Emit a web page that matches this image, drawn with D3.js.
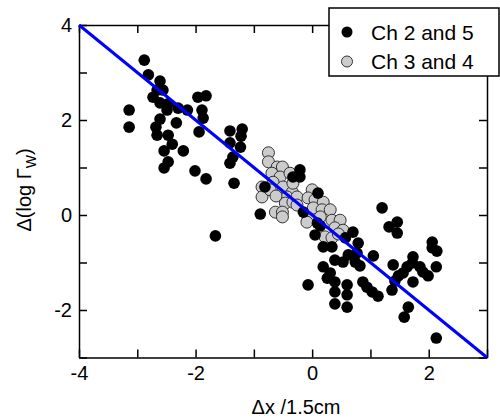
<!DOCTYPE html>
<html>
<head>
<meta charset="utf-8">
<script src="https://cdn.jsdelivr.net/npm/d3@7"></script>
<style>
  body { margin: 0; background: #fff; }
  svg { font-family: "Liberation Sans", Arial, sans-serif; }
  .axis path, .axis line { stroke: #000; stroke-width: 1.5; }
  .axis text { font-size: 20px; fill: #000; }
</style>
</head>
<body>
<svg id="chart"></svg>
<script>
// Ch 2 and 5 (black)
const blackX = [-2.88, -2.81, -2.61, -2.56, -2.66, -2.73, -2.61, -2.47, -2.49, -2.30, -2.14, -3.14, -3.14,
  -2.61, -2.68, -2.66, -2.47, -2.33, -2.40, -2.54, -2.21, -2.47, -2.54, -2.01, -1.82, -1.96, -1.82, -1.89,
  -1.87, -1.94, -1.41, -1.20, -1.22, -1.41, -1.23, -1.36, -1.41, -1.34, -1.66, -0.89, -0.81, -0.21, -0.21,
  -0.33, 0.10, -0.15, 0.09, 0.14, 0.05, 0.57, 1.20, 1.46, 1.32, 1.46, 0.19, 0.34, 0.70, 0.79, 0.39, 0.53,
  0.62, 0.77, 0.74, 0.82, 1.05, 0.19, 0.31, 0.26, 0.39, -0.07, 0.60, 0.39, 0.60, 0.87, 0.94, 1.03, 1.13,
  0.39, 0.60, 1.39, 1.37, 2.06, 2.06, 2.14, 1.73, 1.72, 1.85, 1.90, 1.63, 1.56, 1.48, 1.42, 1.73, 1.99,
  2.13, 1.65, 1.58, 2.13];
const blackY = [3.26, 2.95, 2.82, 2.63, 2.63, 2.48, 2.36, 2.34, 2.21, 2.25, 2.21, 2.21, 1.85,
  2.02, 1.85, 1.68, 1.68, 1.94, 1.49, 1.35, 1.35, 1.12, 0.99, 0.93, 0.76, 2.48, 2.51, 2.21,
  2.04, 1.75, 1.77, 1.81, 1.66, 1.52, 1.43, 1.22, 1.09, 0.67, -0.44, 0.02, 0.59, 0.95, 0.80,
  0.80, 0.46, 0.06, -0.17, -0.23, -0.42, -0.48, 0.15, -0.15, -0.25, -0.38, -0.67, -0.67, -0.36, -0.59, -0.95, -0.99,
  -0.84, -0.80, -0.99, -1.07, -0.86, -1.09, -1.22, -1.33, -1.41, -1.47, -1.47, -1.62, -1.68, -1.41, -1.52, -1.62, -1.71,
  -1.87, -1.94, -1.05, -1.58, -0.57, -0.69, -0.76, -0.88, -1.01, -1.09, -1.20, -1.09, -1.22, -1.28, -1.39, -1.41, -1.28,
  -1.09, -1.94, -2.15, -2.59];

// Ch 3 and 4 (grey)
const greyX = [-0.75, -0.75, -0.60, -0.51, -0.69, -0.55, -0.38, -0.67, -0.86, -0.86, -0.72, -0.50, -0.34,
  -0.33, -0.43, -0.46, -0.33, -0.63, -0.51, -0.51, -0.26, -0.26, 0.00, -0.07, 0.05, 0.19, 0.02, 0.17, 0.31,
  0.14, 0.34, 0.48, 0.39, 0.53, -0.07, 0.22, 0.34, -0.09, -0.62, 0.45];
const greyY = [1.31, 1.12, 1.01, 1.01, 0.88, 0.80, 0.88, 0.69, 0.59, 0.38, 0.53, 0.59, 0.48,
  0.67, 0.38, 0.25, 0.27, 0.06, 0.06, -0.04, 0.38, 0.21, 0.53, 0.36, 0.32, 0.27, 0.15, 0.11, 0.11,
  -0.04, -0.11, -0.11, -0.27, -0.32, -0.06, -0.46, -0.48, -0.15, 0.40, -0.40];

// fit line y = -x
const fitX = [-4, 3];
const fitY = [4, -3];

const xTicks = [-4, -3, -2, -1, 0, 1, 2, 3];
const yTicks = [-3, -2, -1, 0, 1, 2, 3, 4];
const seriesNames = ["Ch 2 and 5", "Ch 3 and 4"];

const width = 500, height = 418;
const svg = d3.select("#chart").attr("width", width).attr("height", height);

const x = d3.scaleLinear().domain([-4, 3]).range([79, 487]);
const y = d3.scaleLinear().domain([-3, 4]).range([357.5, 25]);

const evenOnly = d => (d % 2 === 0 ? String(d) : "");

// frame + ticks (inward on all sides)
svg.append("g").attr("class", "axis")
  .attr("transform", `translate(0,${y(-3)})`)
  .call(d3.axisBottom(x).tickValues(xTicks).tickSize(-8).tickSizeOuter(0).tickPadding(8).tickFormat(evenOnly));
svg.append("g").attr("class", "axis")
  .attr("transform", `translate(0,${y(4)})`)
  .call(d3.axisTop(x).tickValues(xTicks).tickSize(-8).tickSizeOuter(0).tickFormat(""));
svg.append("g").attr("class", "axis")
  .attr("transform", `translate(${x(-4)},0)`)
  .call(d3.axisLeft(y).tickValues(yTicks).tickSize(-8).tickSizeOuter(0).tickPadding(7).tickFormat(evenOnly));
svg.append("g").attr("class", "axis")
  .attr("transform", `translate(${x(3)},0)`)
  .call(d3.axisRight(y).tickValues(yTicks).tickSize(-8).tickSizeOuter(0).tickFormat(""));

svg.selectAll(".axis text").attr("font-size", 20).attr("font-family", "Liberation Sans, Arial, sans-serif");

// points
const grey = greyX.map((v, i) => [v, greyY[i]]);
const black = blackX.map((v, i) => [v, blackY[i]]);

svg.append("g").selectAll("circle").data(grey).enter().append("circle")
  .attr("cx", d => x(d[0])).attr("cy", d => y(d[1])).attr("r", 6)
  .attr("fill", "#cccccc").attr("stroke", "#333").attr("stroke-width", 1);

svg.append("g").selectAll("circle").data(black).enter().append("circle")
  .attr("cx", d => x(d[0])).attr("cy", d => y(d[1])).attr("r", 5.8)
  .attr("fill", "#000");

// blue line
svg.append("line")
  .attr("x1", x(fitX[0])).attr("y1", y(fitY[0]))
  .attr("x2", x(fitX[1])).attr("y2", y(fitY[1]))
  .attr("stroke", "#0000ff").attr("stroke-width", 3);

// axis labels
svg.append("text")
  .attr("x", 296).attr("y", 414)
  .attr("text-anchor", "middle").attr("font-size", 20)
  .text("\u0394x /1.5cm");

const yl = svg.append("text")
  .attr("transform", "translate(31,190) rotate(-90)")
  .attr("text-anchor", "middle").attr("font-size", 20);
yl.append("tspan").text("\u0394(log \u0393");
yl.append("tspan").attr("font-size", 14).attr("dy", 5).text("W");
yl.append("tspan").attr("dy", -5).text(")");

// legend
const legend = svg.append("g");
legend.append("rect")
  .attr("x", 329).attr("y", 8).attr("width", 170).attr("height", 68)
  .attr("fill", "#fff").attr("stroke", "#000").attr("stroke-width", 1.5);
const items = [{ fill: "#000", stroke: "none" }, { fill: "#cccccc", stroke: "#333" }];
items.forEach((it, i) => {
  const cy = 32 + i * 29.5;
  legend.append("circle").attr("cx", 347).attr("cy", cy).attr("r", 5.5)
    .attr("fill", it.fill).attr("stroke", it.stroke);
  legend.append("text").attr("x", 371).attr("y", cy + 7.5)
    .attr("font-size", 21).text(seriesNames[i]);
});
</script>
</body>
</html>
